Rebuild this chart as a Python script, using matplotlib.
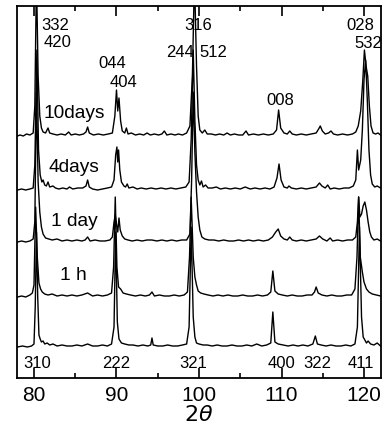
import matplotlib
matplotlib.use("Agg")
import matplotlib.pyplot as plt
from matplotlib.ticker import MultipleLocator

plt.rcParams['font.family'] = ['Liberation Sans', 'DejaVu Sans']

# XRD traces, intensity (pixels above each baseline)
ref_pts = [(78.0, 0), (78.6, 1), (79.2, 0), (79.7, 1), (80.0, 3), (80.15, 40), (80.3, 115), (80.45, 50),
           (80.6, 12), (80.75, 8), (80.9, 5), (81.1, 6), (81.3, 3), (81.6, 4), (81.9, 2), (82.3, 3),
           (82.8, 1), (83.4, 2), (84.0, 1), (84.6, 1), (85.2, 2), (85.8, 1), (86.5, 3), (87.1, 1),
           (87.7, 1), (88.3, 2), (88.9, 1), (89.4, 3), (89.7, 20), (89.9, 115), (90.1, 25), (90.3, 8),
           (90.6, 4), (91.0, 3), (91.5, 2), (92.0, 2), (92.6, 1), (93.2, 2), (93.8, 1), (94.15, 2),
           (94.3, 9), (94.45, 2), (95.0, 1), (95.6, 1), (96.2, 2), (96.8, 1), (97.4, 1), (98.0, 2),
           (98.5, 3), (98.8, 20), (99.05, 120), (99.3, 30), (99.5, 10), (99.7, 4), (100.0, 3), (100.5, 2),
           (101.0, 2), (101.6, 1), (102.2, 2), (102.8, 1), (103.4, 1), (104.0, 2), (104.6, 1), (105.2, 1),
           (105.8, 2), (106.4, 1), (107.0, 3), (107.6, 1), (108.2, 2), (108.7, 4), (108.95, 35), (109.2, 5),
           (109.6, 3), (110.2, 2), (110.8, 1), (111.4, 2), (112.0, 1), (112.6, 2), (113.2, 1), (113.8, 3),
           (114.1, 11), (114.35, 3), (114.8, 2), (115.4, 1), (116.0, 2), (116.6, 1), (117.2, 1), (117.8, 2),
           (118.4, 1), (118.9, 3), (119.2, 20), (119.45, 120), (119.7, 30), (119.9, 10), (120.1, 7),
           (120.3, 4), (120.5, 6), (120.8, 3), (121.2, 2), (121.6, 4), (122.0, 1)]

h1_pts = [(78.0, 0), (78.5, 1), (79.0, 0), (79.5, 2), (79.8, 4), (80.0, 12), (80.2, 90), (80.4, 40),
          (80.6, 14), (80.8, 8), (81.0, 5), (81.3, 3), (81.7, 2), (82.2, 3), (82.8, 1), (83.4, 2),
          (84.0, 1), (84.6, 2), (85.2, 1), (85.8, 2), (86.5, 4), (87.1, 1), (87.7, 2), (88.3, 1),
          (88.9, 2), (89.4, 4), (89.65, 30), (89.85, 100), (90.05, 30), (90.25, 10), (90.5, 8), (90.8, 4),
          (91.2, 3), (91.7, 2), (92.3, 1), (92.9, 2), (93.5, 1), (94.0, 2), (94.3, 5), (94.6, 1),
          (95.2, 2), (95.8, 1), (96.4, 1), (97.0, 2), (97.6, 1), (98.2, 2), (98.6, 5), (98.85, 40),
          (99.05, 100), (99.3, 40), (99.5, 20), (99.7, 12), (99.9, 6), (100.2, 4), (100.6, 3), (101.1, 2),
          (101.7, 1), (102.3, 2), (102.9, 1), (103.5, 2), (104.1, 1), (104.7, 1), (105.3, 2), (105.9, 1),
          (106.5, 1), (107.1, 2), (107.7, 1), (108.3, 2), (108.7, 5), (108.95, 26), (109.2, 6), (109.6, 3),
          (110.1, 2), (110.7, 1), (111.3, 2), (111.9, 1), (112.5, 1), (113.1, 2), (113.7, 2), (114.0, 5),
          (114.2, 10), (114.45, 4), (114.9, 2), (115.5, 1), (116.1, 2), (116.7, 1), (117.3, 1), (117.9, 2),
          (118.5, 2), (118.9, 8), (119.15, 40), (119.35, 100), (119.55, 40), (119.8, 25), (120.0, 15),
          (120.3, 8), (120.6, 5), (121.0, 3), (121.5, 2), (122.0, 1)]

day1_pts = [(78.0, 0), (78.5, 1), (79.0, 0), (79.5, 1), (79.9, 3), (80.1, 20), (80.3, 150), (80.5, 60),
            (80.7, 30), (80.9, 15), (81.1, 8), (81.4, 4), (81.8, 3), (82.2, 2), (82.8, 3), (83.4, 1),
            (84.0, 2), (84.6, 1), (85.2, 2), (85.8, 1), (86.2, 2), (86.5, 5), (86.8, 1), (87.4, 2),
            (88.0, 1), (88.6, 1), (89.2, 2), (89.5, 5), (89.7, 20), (89.85, 27), (90.0, 18), (90.15, 10),
            (90.3, 24), (90.45, 12), (90.7, 6), (91.0, 3), (91.4, 2), (91.9, 1), (92.5, 2), (93.1, 1),
            (93.7, 2), (94.3, 2), (94.9, 1), (95.5, 2), (96.1, 1), (96.7, 2), (97.3, 1), (97.9, 2),
            (98.5, 2), (98.9, 8), (99.1, 60), (99.3, 150), (99.5, 90), (99.7, 50), (99.9, 25), (100.1, 12),
            (100.35, 5), (100.7, 3), (101.2, 2), (101.8, 2), (102.4, 1), (103.0, 2), (103.6, 1), (104.2, 1),
            (104.8, 2), (105.4, 1), (106.0, 2), (106.6, 1), (107.2, 2), (107.8, 1), (108.4, 2), (108.9, 5),
            (109.3, 10), (109.6, 13), (109.9, 6), (110.3, 3), (110.7, 2), (111.0, 5), (111.3, 2), (111.8, 1),
            (112.4, 2), (113.0, 1), (113.6, 2), (114.2, 3), (114.6, 6), (115.0, 3), (115.5, 1), (115.9, 4),
            (116.2, 1), (116.8, 2), (117.4, 1), (118.0, 2), (118.6, 2), (119.0, 5), (119.2, 20), (119.35, 45),
            (119.5, 25), (119.7, 28), (119.9, 36), (120.1, 40), (120.3, 32), (120.5, 20), (120.7, 10),
            (120.9, 5), (121.2, 2), (121.6, 3), (122.0, 1)]

day4_pts = [(78.0, 0), (78.5, 1), (79.0, 0), (79.5, 1), (79.9, 2), (80.1, 25), (80.35, 140), (80.55, 40),
            (80.75, 15), (80.95, 8), (81.1, 10), (81.3, 5), (81.5, 4), (81.7, 8), (81.9, 3), (82.3, 4),
            (82.6, 2), (83.0, 1), (83.5, 2), (84.0, 1), (84.3, 3), (84.7, 1), (85.3, 2), (85.9, 2),
            (86.3, 4), (86.5, 10), (86.7, 3), (87.1, 1), (87.7, 0), (88.3, 1), (88.9, 2), (89.4, 3),
            (89.7, 10), (89.9, 35), (90.05, 43), (90.15, 28), (90.25, 40), (90.4, 20), (90.6, 8), (90.9, 4),
            (91.1, 3), (91.3, 6), (91.5, 2), (92.0, 3), (92.5, 1), (93.0, 2), (93.6, 1), (94.2, 2),
            (94.8, 1), (95.4, 2), (96.0, 1), (96.6, 2), (97.2, 1), (97.8, 2), (98.4, 3), (98.8, 8),
            (99.05, 50), (99.3, 140), (99.5, 70), (99.7, 25), (99.9, 10), (100.1, 5), (100.3, 9), (100.5, 3),
            (100.8, 5), (101.1, 2), (101.6, 2), (102.1, 3), (102.6, 1), (103.2, 2), (103.8, 1), (104.4, 2),
            (105.0, 1), (105.6, 3), (106.2, 1), (106.8, 2), (107.4, 1), (108.0, 2), (108.6, 1), (109.1, 3),
            (109.45, 12), (109.7, 26), (109.95, 10), (110.3, 3), (110.7, 2), (110.9, 4), (111.2, 2), (111.8, 1),
            (112.4, 2), (113.0, 1), (113.6, 2), (114.2, 3), (114.6, 7), (114.9, 4), (115.3, 2), (115.6, 5),
            (115.9, 1), (116.4, 2), (117.0, 1), (117.6, 2), (118.2, 2), (118.7, 4), (119.0, 10), (119.2, 40),
            (119.35, 20), (119.6, 30), (119.8, 60), (120.0, 110), (120.2, 130), (120.4, 90), (120.6, 40),
            (120.8, 15), (121.0, 6), (121.3, 3), (121.6, 4), (122.0, 2)]

day10_pts = [(78.0, 0), (78.3, 1), (78.7, 0), (79.1, 2), (79.5, 1), (79.9, 3), (80.1, 30), (80.3, 160),
             (80.5, 60), (80.7, 20), (80.9, 8), (81.1, 4), (81.4, 3), (81.7, 8), (81.9, 3), (82.3, 2),
             (82.8, 1), (83.3, 2), (83.8, 1), (84.2, 4), (84.5, 1), (85.0, 2), (85.5, 1), (86.0, 2),
             (86.3, 4), (86.5, 9), (86.7, 3), (87.2, 1), (87.8, 2), (88.4, 1), (89.0, 2), (89.5, 3),
             (89.8, 20), (90.0, 46), (90.15, 25), (90.3, 38), (90.5, 15), (90.7, 5), (91.0, 3), (91.2, 8),
             (91.4, 2), (91.8, 3), (92.3, 1), (92.8, 2), (93.3, 1), (93.7, 3), (94.1, 1), (94.6, 2),
             (95.1, 1), (95.5, 2), (95.8, 5), (96.1, 1), (96.6, 2), (97.1, 1), (97.5, 2), (98.0, 1),
             (98.5, 3), (98.9, 10), (99.2, 60), (99.45, 160), (99.7, 70), (99.9, 20), (100.1, 6), (100.4, 3),
             (100.7, 6), (101.0, 2), (101.5, 2), (102.0, 1), (102.5, 2), (103.0, 1), (103.4, 3), (103.8, 1),
             (104.3, 2), (104.8, 1), (105.3, 1), (105.7, 5), (106.0, 1), (106.6, 2), (107.2, 1), (107.8, 2),
             (108.4, 1), (109.0, 2), (109.4, 6), (109.65, 26), (109.9, 8), (110.3, 3), (110.7, 2), (111.0, 5),
             (111.3, 2), (111.8, 1), (112.4, 2), (113.0, 1), (113.6, 2), (114.2, 3), (114.5, 7), (114.7, 10),
             (114.95, 5), (115.3, 2), (115.7, 3), (116.0, 5), (116.3, 2), (116.8, 1), (117.4, 2), (118.0, 1),
             (118.6, 2), (119.0, 4), (119.3, 10), (119.6, 25), (119.85, 55), (120.05, 86), (120.25, 70),
             (120.45, 60), (120.65, 30), (120.85, 10), (121.1, 3), (121.4, 2), (121.7, 3), (122.0, 1)]

traces = [ref_pts, h1_pts, day1_pts, day4_pts, day10_pts]
offsets = [31, 81, 136, 188, 242]

sample_labels = ['10days', '4days', '1 day', '1 h']
sample_x = [81.2, 81.8, 82.06, 83.15]
sample_y = [265, 211, 157, 102]

top_hkl = ['332', '420', '044', '404', '316', '244', '512', '008', '028', '532']
top_hkl_x = [82.55, 82.8, 89.45, 90.8, 99.9, 97.7, 101.7, 109.8, 119.6, 120.5]
top_hkl_y = [353, 336, 315, 296, 353, 326, 326, 278, 353, 335]

bottom_hkl = ['310', '222', '321', '400', '322', '411']
bottom_hkl_x = [80.36, 89.94, 99.27, 109.94, 114.4, 119.6]

fig = plt.figure(figsize=(3.85, 4.29), dpi=100)
ax = fig.add_axes([17 / 385, 51 / 429, 364 / 385, 372 / 429])

for pts, off in zip(traces, offsets):
    xs = [p[0] for p in pts]
    ys = [p[1] + off for p in pts]
    ax.plot(xs, ys, color='black', lw=1.0)

for lab, x, y in zip(sample_labels, sample_x, sample_y):
    ax.text(x, y, lab, ha='left', va='center', fontsize=13.8)
for lab, x, y in zip(top_hkl, top_hkl_x, top_hkl_y):
    ax.text(x, y, lab, ha='center', va='center', fontsize=12)
for lab, x in zip(bottom_hkl, bottom_hkl_x):
    ax.text(x, 15, lab, ha='center', va='center', fontsize=12)

ax.set_xlim(77.94, 122.06)
ax.set_ylim(0, 372)
ax.set_yticks([])
ax.xaxis.set_major_locator(MultipleLocator(10))
ax.xaxis.set_minor_locator(MultipleLocator(5))
ax.tick_params(axis='x', which='both', direction='in', top=True, labelsize=15, width=1.2)
ax.tick_params(axis='x', which='major', length=7, pad=6)
ax.tick_params(axis='x', which='minor', length=3.5)
for s in ax.spines.values():
    s.set_linewidth(1.3)

ax.set_xlabel(r'$2\theta$', fontsize=16, labelpad=0)

fig.savefig('out.png', dpi=100)
